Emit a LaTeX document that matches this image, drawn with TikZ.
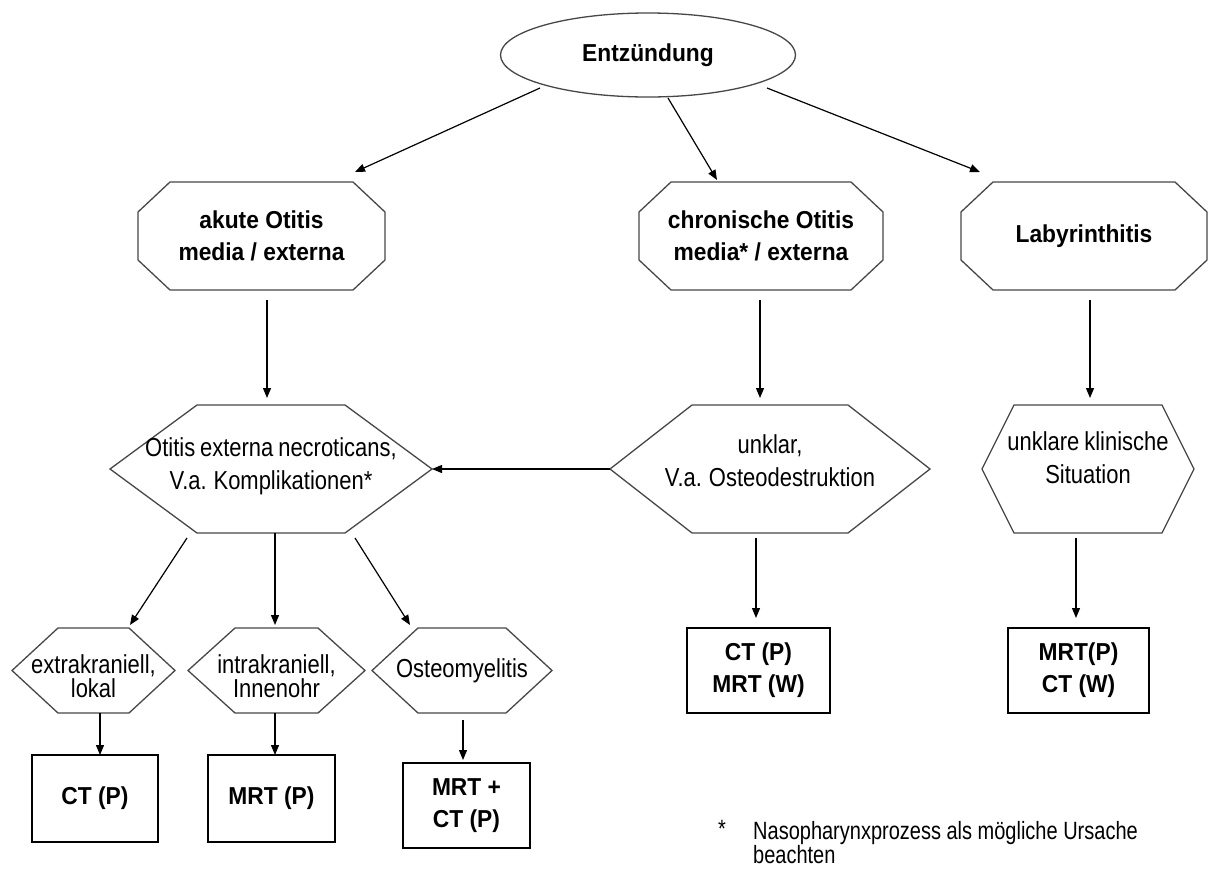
\documentclass[tikz,border=0pt]{standalone}
\usepackage{fontspec}
\setmainfont[FakeStretch=0.93]{Liberation Sans}
\newfontfamily\narrowfont[FakeStretch=0.845,WordSpace=0.8]{Liberation Sans}
\newfontfamily\footfont[FakeStretch=0.8]{Liberation Sans}
\usetikzlibrary{shapes.geometric,arrows.meta,calc}

\newcommand\octoutline[3]{%
\draw[outline] ($(#1.north west)+(#2,0)$) -- ($(#1.north east)+(-#2,0)$) -- ($(#1.north east)+(0,#3)$) -- ($(#1.south east)+(0,-#3)$) -- ($(#1.south east)+(-#2,0)$) -- ($(#1.south west)+(#2,0)$) -- ($(#1.south west)+(0,-#3)$) -- ($(#1.north west)+(0,#3)$) -- cycle;}
\newcommand\hexoutline[2]{%
\draw[outline] ($(#1.north west)+(#2,0)$) -- ($(#1.north east)+(-#2,0)$) -- (#1.east) -- ($(#1.south east)+(-#2,0)$) -- ($(#1.south west)+(#2,0)$) -- (#1.west) -- cycle;}

\begin{document}
\begin{tikzpicture}[x=1pt,y=-1pt,
  outline/.style={draw=black!72, line width=1.3pt, line join=miter},
  shapebox/.style={rectangle, draw=none, inner sep=0pt, outer sep=0pt},
  boldtxt/.style={font=\bfseries\fontsize{24.5}{32}\selectfont, align=center, inner sep=0pt},
  regtxt/.style={font=\narrowfont\fontsize{26}{33}\selectfont, align=center, inner sep=0pt},
  smalltxt/.style={font=\narrowfont\fontsize{26}{24}\selectfont, align=center, inner sep=0pt},
  resultbox/.style={rectangle, draw=black, line width=1.3pt, inner sep=0pt, outer sep=0pt, align=center, font=\bfseries\fontsize{24.5}{32}\selectfont},
  arr/.style={-{Triangle[length=10pt,width=8pt]}, line width=1.2pt, draw=black},
  foot/.style={font=\footfont\fontsize{25}{21}\selectfont, inner sep=0pt, align=left},
]
\useasboundingbox (0,0) rectangle (1216,868);
\fill[white] (0,0) rectangle (1216,868);

% top ellipse
\node[ellipse, draw=black!72, line width=1.3pt, minimum width=295pt, minimum height=84pt, inner sep=0pt, font=\bfseries\fontsize{24.5}{32}\selectfont] (E) at (648,55) {Entzündung};

% octagons
\node[shapebox, minimum width=247pt, minimum height=108pt, boldtxt] (O1) at (261.5,236) {akute Otitis\\media / externa};
\node[shapebox, minimum width=244pt, minimum height=108pt, boldtxt] (O2) at (761,236) {chronische Otitis\\media* / externa};
\node[shapebox, minimum width=246pt, minimum height=108pt, boldtxt] (O3) at (1084,236) {Labyrinthitis};
\octoutline{O1}{32}{30}
\octoutline{O2}{32}{30}
\octoutline{O3}{32}{30}

% middle hexagons
\node[shapebox, minimum width=322pt, minimum height=128pt] (H1) at (271,469) {};
\node[shapebox, minimum width=320pt, minimum height=128pt] (H2) at (770,469) {};
\node[shapebox, minimum width=212pt, minimum height=128pt] (H3) at (1088,469) {};
\hexoutline{H1}{87}
\hexoutline{H2}{82}
\hexoutline{H3}{32}
\node[regtxt] (H1t) at ($(H1.center)+(0,-3)$) {Otitis externa necroticans,\\V.a. Komplikationen*};
\node[regtxt] (H2t) at ($(H2.center)+(0,-8)$) {unklar,\\V.a. Osteodestruktion};
\node[regtxt] (H3t) at ($(H3.center)+(0,-11)$) {unklare klinische\\Situation};

% small hexagons
\node[shapebox, minimum width=163pt, minimum height=85pt] (S1) at (93.5,670.5) {};
\node[shapebox, minimum width=177pt, minimum height=85pt] (S2) at (276.5,670.5) {};
\node[shapebox, minimum width=180pt, minimum height=85pt] (S3) at (462,670.5) {};
\hexoutline{S1}{46}
\hexoutline{S2}{47}
\hexoutline{S3}{46}
\node[smalltxt] (S1t) at ($(S1.center)+(0,6)$) {extrakraniell,\\lokal};
\node[smalltxt] (S2t) at ($(S2.center)+(0,6)$) {intrakraniell,\\Innenohr};
\node[smalltxt] (S3t) at (S3.center) {Osteomyelitis};

% result boxes
\node[resultbox, minimum width=126pt, minimum height=87pt] (B1) at (95,798.5) {CT (P)};
\node[resultbox, minimum width=127pt, minimum height=87pt] (B2) at (271.5,798.5) {MRT (P)};
\node[resultbox, minimum width=127pt, minimum height=85pt] (B3) at (466.5,805.5) {MRT +\\CT (P)};
\node[resultbox, minimum width=143pt, minimum height=85pt] (B4) at (758.5,670.5) {CT (P)\\MRT (W)};
\node[resultbox, minimum width=141pt, minimum height=85pt] (B5) at (1078.5,670.5) {MRT(P)\\CT (W)};

% connectors
\draw[arr] ($(E.center)+(-108,33)$) -- ($(O1.north)+(93.5,-10)$);
\draw[arr] ($(E.center)+(20,43)$) -- ($(O2.north)+(-44,-2)$);
\draw[arr] ($(E.center)+(119,33)$) -- ($(O3.north west)+(19,-10)$);
\draw[arr] ($(O1.south)+(5.5,10)$) -- ($(H1.north)+(-4,-7)$);
\draw[arr] ($(O2.south)+(-1,10)$) -- ($(H2.north)+(-10,-7)$);
\draw[arr] ($(O3.south)+(6,10)$) -- ($(H3.north)+(2,-7)$);
\draw[arr] (H2.west) -- (H1.east);
\draw[arr] ($(H1.south)+(-84,5)$) -- ($(S1.north)+(36.5,-3)$);
\draw[arr] ($(H1.south)+(4,0)$) -- ($(S2.north)+(-1.5,-3)$);
\draw[arr] ($(H1.south)+(84,5)$) -- ($(S3.north)+(-52,-3)$);
\draw[arr] ($(S1.south)+(6.5,0)$) -- ($(B1.north)+(5,0)$);
\draw[arr] ($(S2.south)+(-1.5,0)$) -- ($(B2.north)+(3.5,0)$);
\draw[arr] ($(S3.south)+(1,7)$) -- ($(B3.north)+(-3.5,-3)$);
\draw[arr] ($(H2.south)+(-14,5)$) -- ($(B4.north)+(-2.5,-10)$);
\draw[arr] ($(H3.south)+(-12,5)$) -- ($(B5.north)+(-2.5,-10)$);

% footnote
\node[foot, anchor=north] (star) at (722,820) {*};
\node[foot, anchor=north west] (fn) at (753,821) {Nasopharynxprozess als mögliche Ursache\\beachten};
\end{tikzpicture}
\end{document}
